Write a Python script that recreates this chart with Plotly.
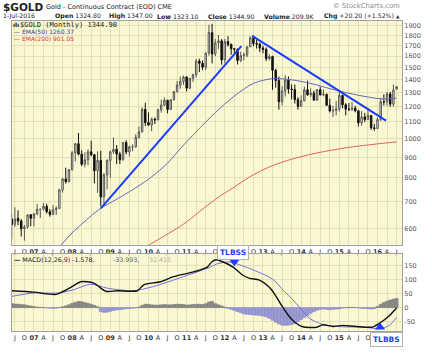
import math
import plotly.graph_objects as go

# ---------------- data (monthly, Jun-2006 .. Jul-2016) ----------------
open_ = [633, 614, 636, 626, 599, 606, 649,
         636, 652, 669, 669, 681, 660, 650, 668, 673, 748, 795, 783,
         838, 923, 972, 916, 865, 887, 928, 913, 833, 884, 718, 814,
         884, 928, 942, 916, 887, 979, 927, 955, 955, 1008, 1040, 1182,
         1096, 1081, 1118, 1113, 1180, 1212, 1245, 1181, 1248, 1308, 1357, 1386,
         1421, 1333, 1410, 1439, 1556, 1536, 1502, 1628, 1829, 1620, 1725, 1746,
         1566, 1738, 1710, 1669, 1664, 1561, 1604, 1610, 1687, 1776, 1719, 1713,
         1675, 1663, 1578, 1596, 1476, 1393, 1234, 1313, 1396, 1327, 1323, 1250,
         1202, 1240, 1321, 1284, 1296, 1246, 1322, 1282, 1287, 1210, 1171, 1175,
         1184, 1279, 1213, 1183, 1182, 1190, 1172, 1095, 1132, 1115, 1141, 1064,
         1060, 1116, 1234, 1233, 1290, 1217, 1325]
high_ = [650, 677, 665, 633, 612, 650, 650,
         655, 690, 672, 694, 691, 670, 685, 681, 752, 800, 848, 842,
         932, 975, 1033, 936, 925, 942, 989, 917, 931, 934, 823, 889,
         934, 1007, 965, 928, 981, 992, 961, 968, 1025, 1072, 1196, 1227,
         1162, 1128, 1128, 1185, 1249, 1266, 1248, 1250, 1310, 1388, 1424, 1432,
         1424, 1412, 1448, 1575, 1577, 1561, 1632, 1912, 1923, 1764, 1804, 1764,
         1764, 1792, 1720, 1676, 1670, 1641, 1632, 1691, 1790, 1798, 1755, 1727,
         1697, 1681, 1617, 1604, 1488, 1424, 1348, 1434, 1425, 1362, 1361, 1267,
         1280, 1346, 1392, 1332, 1315, 1326, 1346, 1324, 1293, 1256, 1206, 1239,
         1308, 1285, 1224, 1225, 1232, 1206, 1174, 1170, 1158, 1192, 1142, 1088,
         1127, 1263, 1287, 1304, 1306, 1362, 1347]
low_ = [565, 605, 612, 573, 560, 600, 608,
        607, 648, 637, 665, 653, 642, 648, 648, 670, 736, 775, 780,
        835, 880, 910, 856, 850, 860, 905, 776, 735, 681, 685, 750,
        801, 917, 866, 865, 882, 915, 904, 931, 950, 1000, 1036, 1075,
        1076, 1044, 1087, 1113, 1160, 1203, 1155, 1181, 1242, 1300, 1329, 1358,
        1308, 1328, 1381, 1417, 1462, 1478, 1478, 1604, 1535, 1600, 1667, 1523,
        1535, 1689, 1612, 1614, 1526, 1546, 1562, 1590, 1686, 1693, 1670, 1636,
        1626, 1555, 1562, 1321, 1337, 1180, 1208, 1271, 1292, 1251, 1222, 1180,
        1202, 1237, 1277, 1268, 1240, 1240, 1281, 1273, 1205, 1161, 1131, 1142,
        1167, 1190, 1142, 1170, 1170, 1162, 1072, 1077, 1099, 1112, 1052, 1046,
        1058, 1106, 1208, 1206, 1199, 1200, 1323]
close_ = [613, 633, 626, 599, 605, 648, 636,
          652, 669, 669, 681, 660, 650, 668, 673, 748, 795, 783, 838,
          923, 972, 916, 865, 887, 928, 913, 833, 884, 718, 814, 884,
          928, 942, 916, 887, 979, 927, 955, 955, 1008, 1040, 1182, 1096,
          1081, 1118, 1113, 1180, 1212, 1245, 1181, 1248, 1308, 1357, 1386, 1421,
          1333, 1410, 1439, 1556, 1536, 1502, 1628, 1829, 1620, 1725, 1746, 1566,
          1738, 1710, 1669, 1664, 1561, 1604, 1610, 1687, 1776, 1719, 1713, 1675,
          1663, 1578, 1596, 1476, 1393, 1234, 1313, 1396, 1327, 1323, 1250, 1202,
          1240, 1321, 1284, 1296, 1246, 1322, 1282, 1287, 1210, 1171, 1175, 1184,
          1279, 1213, 1183, 1182, 1190, 1172, 1095, 1132, 1115, 1141, 1064, 1060,
          1116, 1234, 1233, 1290, 1217, 1320, 1345]
# month index: 0 = Jan 2007
month_idx = list(range(-7, 115))

# moving averages (month index, value)
ema50_m = [8, 12, 15, 18, 21, 27, 33, 37, 42, 46, 51, 57, 63, 69, 75, 81, 87, 93, 99, 105, 110, 114]
ema50_v = [540, 585, 615, 645, 673, 716, 765, 805, 870, 945, 1040, 1160, 1275, 1370, 1408, 1398, 1370, 1330, 1295, 1268, 1253, 1260]
ema200_m = [35, 41, 47, 52, 57, 63, 69, 75, 81, 87, 93, 99, 105, 110, 114]
ema200_v = [540, 575, 615, 660, 708, 760, 815, 858, 890, 915, 935, 952, 965, 975, 982]

# trend lines
tl1_m = [21, 65.2]
tl1_v = [673, 1694]
tl2_m = [68.6, 110.7]
tl2_v = [1795, 1108]

# MACD panel
macd_m = [-7, 0, 7, 11, 14.7, 18.8, 22.6, 26.2, 32.5, 34.5, 39.8, 43.9, 50.2, 54.5, 56, 57.4, 59.5,
          62.6, 65.7, 67.8, 70.9, 74, 76, 78, 80, 82, 84.5, 88.7, 90.8, 94, 97.1, 101.3, 106.5, 109.1, 111.7, 114]
macd_v = [60, 55, 47, 68, 92, 87, 58, 60, 60, 81, 92, 110, 127, 144, 164, 170, 162,
          144, 115, 104, 98, 72, 42, 5, -28, -52, -68, -70, -61, -67, -63, -67, -69, -52, -29, -1.6]
sig_m = [-7, 0, 7.4, 12, 17.9, 23.1, 31.3, 37.6, 47, 55.5, 57.4, 61.5, 67.8, 74, 76, 78.3, 80.5,
         82.4, 84.5, 86.6, 90.8, 97.1, 103.4, 108.6, 111.7, 114]
sig_v = [40, 52, 52, 62, 83, 69, 60, 75, 110, 144, 155, 162, 139, 108, 92, 62, 38,
         15, -12, -38, -60, -68, -69, -75, -63, -34]
hist_v = [14, 13, 12, 11, 10, 8, 6,
          4, 2, 1, 0, -1, -2, -3, -2, 0,
          3, 6, 10, 15, 19, 22, 21, 18, 15, 12, 8, 3,
          -14, -17, -16, -13, -10, -8, -7, -6, -4, -3, -2, -1,
          2, 8, 12, 12, 10, 9, 9, 10, 11, 10, 10, 11, 12, 12, 11, 9, 10, 11, 12, 12, 11, 14, 20, 22,
          14, 10, 6, 2, -3, -6, -10, -14, -18, -22, -24, -25, -26, -27, -28, -30,
          -33, -38, -45, -52, -58, -62, -63, -62, -60, -56, -50, -42, -35, -28, -20, -14, -9, -6,
          -5, -6, -7, -6, -5, -4, -2, 0, 1, 1, 0, -1, -3, -3, -4, -5, -4,
          4, 12, 18, 23, 27, 30, 32.4]

price_ticks = [600, 700, 800, 900, 1000, 1100, 1200, 1300, 1400, 1500, 1600, 1700, 1800, 1900]
macd_ticks = [-50, 0, 50, 100, 150]
q_m = list(range(-6, 115, 3))
q_lab = []
for m in q_m:
    mo = m % 12
    if mo == 0:
        q_lab.append("<b>%02d</b>" % ((7 + m // 12) % 100))
    else:
        q_lab.append({3: "A", 6: "J", 9: "O"}[mo])

# ---------------- figure ----------------
W_, H_ = 432, 353
L, R, T, B = 11, 402, 21, 339
PW, PH = R - L, B - T
BG = "#faf8d2"
GRID = "#e4e0b4"
FONT = "DejaVu Sans"

def P(xp, yp):
    return dict(x=(xp - L) / PW, y=(B - yp) / PH, xref="paper", yref="paper")

fig = go.Figure()
fig.add_trace(go.Candlestick(
    x=month_idx, open=open_, high=high_, low=low_, close=close_,
    xaxis="x", yaxis="y", whiskerwidth=0, showlegend=False,
    increasing=dict(line=dict(color="#555555", width=1), fillcolor="#f4f4f0"),
    decreasing=dict(line=dict(color="#111111", width=1), fillcolor="#111111")))
fig.add_trace(go.Scatter(x=ema200_m, y=ema200_v, mode="lines", xaxis="x", yaxis="y",
                         line=dict(color="#e06060", width=1, shape="spline", smoothing=0.8), showlegend=False))
fig.add_trace(go.Scatter(x=ema50_m, y=ema50_v, mode="lines", xaxis="x", yaxis="y",
                         line=dict(color="#6464c0", width=1, shape="spline", smoothing=0.8), showlegend=False))
for tm, tv in ((tl1_m, tl1_v), (tl2_m, tl2_v)):
    fig.add_trace(go.Scatter(x=tm, y=tv, mode="lines", xaxis="x", yaxis="y",
                             line=dict(color="#1a3cff", width=2), showlegend=False))

fig.add_trace(go.Bar(x=month_idx, y=hist_v, xaxis="x2", yaxis="y2", showlegend=False,
                     marker=dict(color=["#8c8c8c" if v >= 0 else "#9d9dd6" for v in hist_v],
                                 line=dict(color=["#6e6e6e" if v >= 0 else "#7a7ac4" for v in hist_v], width=0.5))))
fig.add_trace(go.Scatter(x=sig_m, y=sig_v, mode="lines", xaxis="x2", yaxis="y2",
                         line=dict(color="#7070dd", width=1, shape="spline", smoothing=0.7), showlegend=False))
fig.add_trace(go.Scatter(x=macd_m, y=macd_v, mode="lines", xaxis="x2", yaxis="y2",
                         line=dict(color="#111111", width=1.4, shape="spline", smoothing=0.7), showlegend=False))
# signal markers
fig.add_trace(go.Scatter(x=[63], y=[163], mode="markers", xaxis="x2", yaxis="y2", cliponaxis=False,
                         marker=dict(symbol="triangle-down", size=9, color="#1a3cff"), showlegend=False))
fig.add_trace(go.Scatter(x=[108.8], y=[-70], mode="markers", xaxis="x2", yaxis="y2", cliponaxis=False,
                         marker=dict(symbol="triangle-up", size=9, color="#1a3cff"), showlegend=False))

xcommon = dict(range=[-6.9, 115.7], tickmode="array", tickvals=q_m, ticktext=q_lab, tickangle=0,
               showgrid=True, gridcolor=GRID, gridwidth=1, zeroline=False,
               showline=True, mirror=True, linecolor="#a0a0a0", linewidth=1, ticks="",
               tickfont=dict(family=FONT, size=6.5, color="#333333"), fixedrange=True)
ycommon = dict(side="right", showgrid=True, gridcolor=GRID, gridwidth=1, zeroline=False,
               showline=True, mirror=True, linecolor="#a0a0a0", linewidth=1, ticks="",
               tickfont=dict(family=FONT, size=6.5, color="#555555"), fixedrange=True)

fig.update_layout(
    width=W_, height=H_,
    margin=dict(l=L, r=W_ - R, t=T, b=H_ - B, pad=0),
    paper_bgcolor="white", plot_bgcolor=BG,
    bargap=0.05, boxgap=0.35,
    xaxis=dict(domain=[0, 1], anchor="y", rangeslider=dict(visible=False), **xcommon),
    xaxis2=dict(domain=[0, 1], anchor="y2", matches="x", **xcommon),
    yaxis=dict(domain=[(B - 250.5) / PH, 1], anchor="x", type="log",
               range=[math.log10(547), math.log10(1954)],
               tickmode="array", tickvals=price_ticks, ticktext=[str(v) for v in price_ticks], **ycommon),
    yaxis2=dict(domain=[0, (B - 260) / PH], anchor="x2", range=[-83, 190.5],
                tickmode="array", tickvals=macd_ticks, ticktext=[str(v) for v in macd_ticks], **ycommon),
)

ann = []
def add(xp, yp, text, size, color="#222222", xanchor="left", family=FONT, **kw):
    d = P(xp, yp)
    d.update(text=text, showarrow=False, xanchor=xanchor, yanchor="middle",
             font=dict(family=family, size=size, color=color), borderpad=0)
    d.update(kw)
    ann.append(d)

HS = 6.2
# header
add(1, 6.5, "<b>$GOLD</b>", 10.5)
add(44, 7, "Gold - Continuous Contract (EOD) CME", 6.5)
add(401, 6, "© StockCharts.com", 6.8, color="#8a8a8a", xanchor="right")
add(1, 16, "1-Jul-2016", HS)
add(53, 16, "<b>Open</b> 1324.80", HS)
add(107, 16, "<b>High</b> 1347.00", HS)
add(155, 16, "<b>Low</b> 1323.10", HS)
add(207, 16, "<b>Close</b> 1344.90", HS)
add(263, 16, "<b>Volume</b> 209.9K", HS)
add(323, 16, "<b>Chg</b> +20.20 (+1.52%)", HS)
add(401, 16, "▲", 4.5, color="#333333", xanchor="right")
# main legend
add(11.5, 25, "<b>ılı</b>", 6, color="#222222")
add(18, 25, "$GOLD (Monthly) 1344.90", 7, family="DejaVu Sans Mono")
add(12, 32, "— EMA(50) 1260.37", 6, color="#3a3aa8")
add(12, 39, "— EMA(200) 901.05", 6, color="#e03838")
# MACD legend
add(12, 265.5, "<b>—</b> MACD(12,26,9) -1.578,", 6.3, color="#222222")
add(111, 265.5, "-33.993,", 6.3, color="#5050c8")
add(147, 265.5, "32.415", 6.3, color="#aaaaaa")
# signal boxes
add(233, 258, "<b>TLBSS</b>", 7.5, color="#1a3cff", xanchor="center",
    bgcolor="white", bordercolor="#b0b0b0", borderwidth=1, borderpad=2)
add(386, 347.5, "<b>TLBBS</b>", 7.5, color="#1a3cff", xanchor="center",
    bgcolor="white", bordercolor="#b0b0b0", borderwidth=1, borderpad=2)
fig.update_layout(annotations=ann)

fig.write_html("out.html")
